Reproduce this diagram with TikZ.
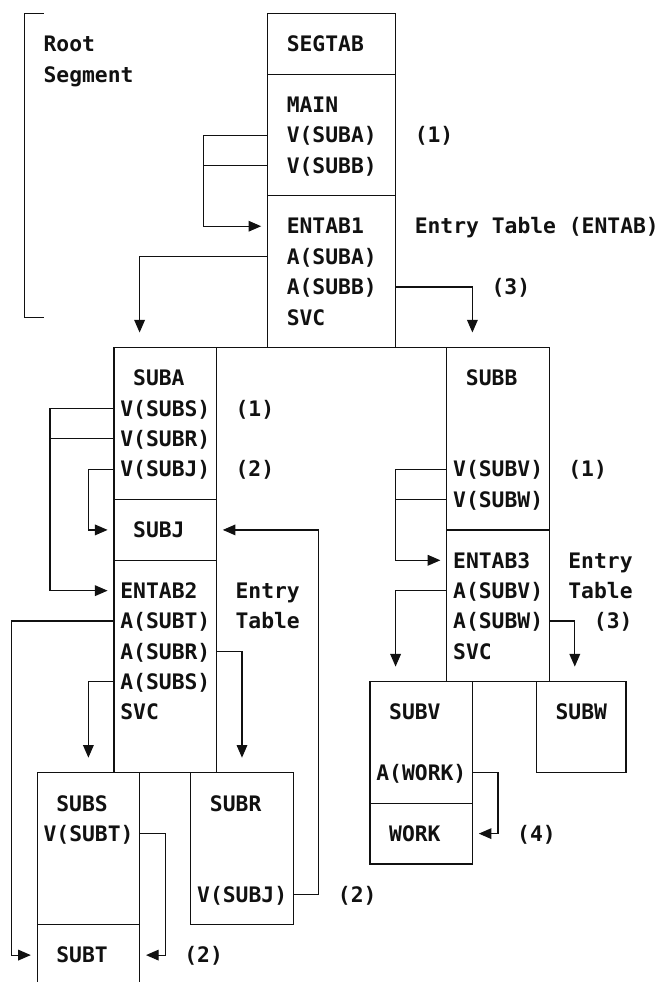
\documentclass[tikz,border=0pt]{standalone}
\usepackage{fontspec}
\setmonofont{DejaVu Sans Mono}[BoldFont={DejaVu Sans Mono Bold}]
\usepackage{tikz}
\usetikzlibrary{arrows.meta,calc,fit}
\definecolor{Ink}{HTML}{111111}
\tikzset{
  seg/.style={draw=Ink,line width=0.9pt,inner sep=0pt,outer sep=0pt,fit={#1}},
  txt/.style={anchor=west,inner sep=0pt,outer sep=0pt,text=Ink,font=\ttfamily\bfseries\fontsize{16}{19}\selectfont,text height=11.66pt,text depth=0pt},
  wire/.style={draw=Ink,line width=0.9pt},
  arrow/.style={wire,-{Triangle[length=9.5pt,width=8pt]}}
}
\begin{document}
\begin{tikzpicture}[x=9.6pt,y=-22.7775pt]
\useasboundingbox (0.094,-1.449) rectangle (51.42,30.886);
% segments
\node[seg={(21,-1)(31,1)}] (segtabBox) {};
\node[seg={(21,1)(31,5)}] (mainBox) {};
\node[seg={(21,5)(31,10)}] (entabBox) {};
\node[seg={(9,10)(17,15)}] (subaBox) {};
\node[seg={(9,15)(17,17)}] (subjBox) {};
\node[seg={(9,17)(17,24)}] (entabTwoBox) {};
\node[seg={(35,10)(43,16)}] (subbBox) {};
\node[seg={(35,16)(43,21)}] (entabThreeBox) {};
\node[seg={(3,24)(11,29)}] (subsBox) {};
\node[seg={(15,24)(23,29)}] (subrBox) {};
\node[seg={(29,21)(37,25)}] (subvBox) {};
\node[seg={(29,25)(37,27)}] (workBox) {};
\node[seg={(42,21)(49,24)}] (subwBox) {};
\draw[wire] (subaBox.north west) -- (subbBox.north east);
\draw[wire] (subsBox.north west) -- (subrBox.north east);
\draw[wire] (subvBox.north west) -- (subwBox.north east);
\draw[wire] (subsBox.south west) -- ++(0,1.886);
\draw[wire] (subsBox.south east) -- ++(0,1.886);
\draw[wire] (3.5,-1) -- (2,-1) -- (2,9) -- (3.5,9);
% root segment
\node[txt] (rootlbl) at (3.5,0) {Root};
\node[txt] (seglbl) at (3.5,1) {Segment};
\node[txt] (segtab) at (22.5,0) {SEGTAB};
\node[txt] (main) at (22.5,2) {MAIN};
\node[txt] (vsuba) at (22.5,3) {V(SUBA)};
\node[txt] (vsubb) at (22.5,4) {V(SUBB)};
\node[txt] (entab1) at (22.5,6) {ENTAB1};
\node[txt] (asuba) at (22.5,7) {A(SUBA)};
\node[txt] (asubb) at (22.5,8) {A(SUBB)};
\node[txt] (svc1) at (22.5,9) {SVC};
\node[txt] (n1a) at (32.5,3) {(1)};
\node[txt] (entabnote) at (32.5,6) {Entry Table (ENTAB)};
\node[txt] (n3a) at (38.5,8) {(3)};
% SUBA side
\node[txt] (suba) at (10.5,11) {SUBA};
\node[txt] (vsubs) at (9.5,12) {V(SUBS)};
\node[txt] (vsubr) at (9.5,13) {V(SUBR)};
\node[txt] (vsubj) at (9.5,14) {V(SUBJ)};
\node[txt] (n1b) at (18.5,12) {(1)};
\node[txt] (n2a) at (18.5,14) {(2)};
\node[txt] (subj) at (10.5,16) {SUBJ};
\node[txt] (entab2) at (9.5,18) {ENTAB2};
\node[txt] (asubt) at (9.5,19) {A(SUBT)};
\node[txt] (asubr) at (9.5,20) {A(SUBR)};
\node[txt] (asubs) at (9.5,21) {A(SUBS)};
\node[txt] (svc2) at (9.5,22) {SVC};
\node[txt] (entry2) at (18.5,18) {Entry};
\node[txt] (table2) at (18.5,19) {Table};
\node[txt] (subs) at (4.5,25) {SUBS};
\node[txt] (vsubt) at (3.5,26) {V(SUBT)};
\node[txt] (subt) at (4.5,30) {SUBT};
\node[txt] (n2b) at (14.5,30) {(2)};
\node[txt] (subr) at (16.5,25) {SUBR};
\node[txt] (vsubjr) at (15.5,28) {V(SUBJ)};
\node[txt] (n2c) at (26.5,28) {(2)};
% SUBB side
\node[txt] (subb) at (36.5,11) {SUBB};
\node[txt] (vsubv) at (35.5,14) {V(SUBV)};
\node[txt] (vsubw) at (35.5,15) {V(SUBW)};
\node[txt] (n1c) at (44.5,14) {(1)};
\node[txt] (entab3) at (35.5,17) {ENTAB3};
\node[txt] (asubv) at (35.5,18) {A(SUBV)};
\node[txt] (asubw) at (35.5,19) {A(SUBW)};
\node[txt] (svc3) at (35.5,20) {SVC};
\node[txt] (entry3) at (44.5,17) {Entry};
\node[txt] (table3) at (44.5,18) {Table};
\node[txt] (n3b) at (46.5,19) {(3)};
\node[txt] (subv) at (30.5,22) {SUBV};
\node[txt] (awork) at (29.5,24) {A(WORK)};
\node[txt] (work) at (30.5,26) {WORK};
\node[txt] (subw) at (43.5,22) {SUBW};
\node[txt] (n4) at (40.5,26) {(4)};
% references
\draw[arrow] (mainBox.west |- vsuba) -- ++(-5,0) |- ($(entabBox.west |- entab1)+(-0.5,0)$);
\draw[wire] (mainBox.west |- vsubb) -- ++(-5,0);
\draw[arrow] (entabBox.west |- asuba) -| ($(subaBox.north west)+(2,-0.5)$);
\draw[arrow] (entabBox.east |- asubb) -| ($(subbBox.north west)+(2,-0.5)$);
\draw[arrow] (subaBox.west |- vsubs) -- ++(-5,0) |- ($(entabTwoBox.west |- entab2)+(-0.5,0)$);
\draw[wire] (subaBox.west |- vsubr) -- ++(-5,0);
\draw[arrow] (subaBox.west |- vsubj) -- ++(-2,0) |- ($(subjBox.west |- subj)+(-0.5,0)$);
\draw[arrow] (subrBox.east |- vsubjr) -- ++(2,0) |- ($(subjBox.east |- subj)+(0.5,0)$);
\draw[arrow] (entabTwoBox.west |- asubt) -- ++(-8,0) |- ($(subsBox.west |- subt)+(-0.5,0)$);
\draw[arrow] (entabTwoBox.east |- asubr) -| ($(subrBox.north west)+(4,-0.5)$);
\draw[arrow] (entabTwoBox.west |- asubs) -| ($(subsBox.north west)+(4,-0.5)$);
\draw[arrow] (subsBox.east |- vsubt) -- ++(2,0) |- ($(subsBox.east |- subt)+(0.5,0)$);
\draw[arrow] (subbBox.west |- vsubv) -- ++(-4,0) |- ($(entabThreeBox.west |- entab3)+(-0.5,0)$);
\draw[wire] (subbBox.west |- vsubw) -- ++(-4,0);
\draw[arrow] (entabThreeBox.west |- asubv) -| ($(subvBox.north west)+(2,-0.5)$);
\draw[arrow] (entabThreeBox.east |- asubw) -| ($(subwBox.north west)+(3,-0.5)$);
\draw[arrow] (subvBox.east |- awork) -- ++(2,0) |- ($(workBox.east |- work)+(0.5,0)$);
\end{tikzpicture}
\end{document}
